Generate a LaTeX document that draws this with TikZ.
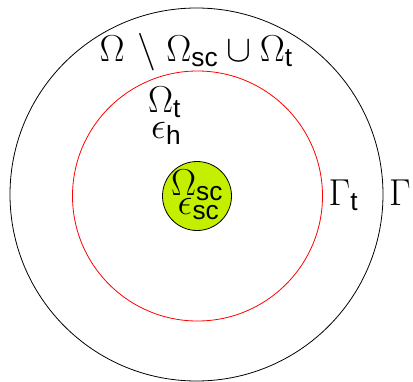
\RequirePackage{fix-cm}
\documentclass[tikz,border=0pt]{standalone}
\usepackage{amsmath}
\usepackage[no-math]{fontspec}
\setsansfont{Liberation Sans}
\definecolor{scgreen}{RGB}{196,240,0}
\newcommand{\sub}[1]{\text{\sffamily #1}}
\begin{document}
\begin{tikzpicture}[x=1pt,y=-1pt,
  lbl/.style={inner sep=0pt, anchor=base west, font=\fontsize{37.5}{42}\selectfont},
  ring/.style={circle, draw, inner sep=0pt, line width=0.8pt}]
\useasboundingbox (0,0) rectangle (413,381);
\node[ring, minimum size=373pt] (outer) at (196.5,194.5) {};
\node[ring, draw=red, minimum size=250pt] (inner) at (197.5,196) {};
\node[ring, fill=scgreen, minimum size=69pt] (sc) at (197,196) {};
\node[lbl] (title) at (99.5,61) {$\Omega\mskip2mu\setminus\mskip1mu\Omega_{\sub{sc}}\cup\Omega_{\sub{t}}$};
\node[lbl] (omt) at (148,112) {$\Omega_{\sub{t}}$};
\node[lbl] (eph) at (151,138) {$\epsilon_{\sub{h}}$};
\node[lbl] (omsc) at (171,195) {$\Omega_{\sub{sc}}$};
\node[lbl] (epsc) at (177.5,214) {$\epsilon_{\sub{sc}}$};
\node[lbl] (gt) at (328.5,205) {$\Gamma_{\sub{t}}$};
\node[lbl] (g) at (389,205) {$\Gamma$};
\end{tikzpicture}
\end{document}
